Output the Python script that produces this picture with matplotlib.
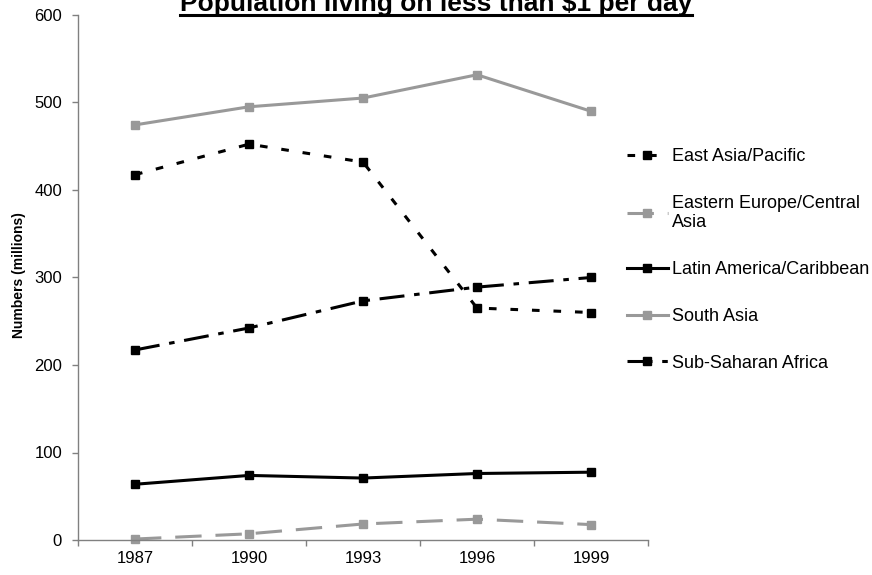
import matplotlib
matplotlib.use("Agg")
import matplotlib.pyplot as plt
from matplotlib.lines import Line2D

plt.rcParams['font.family'] = ['Liberation Sans', 'DejaVu Sans']
plt.rcParams['lines.scale_dashes'] = False

years = ['1987', '1990', '1993', '1996', '1999']
east_asia = [417.5, 452.4, 431.9, 265.1, 260.0]
eastern_europe = [1.1, 7.1, 18.3, 23.8, 17.6]
latin_america = [63.7, 73.8, 70.8, 76.0, 77.5]
south_asia = [474.4, 495.1, 505.1, 531.7, 490.0]
ss_africa = [217.2, 242.3, 273.3, 289.0, 300.0]

GRAY = '#999999'
AXC = '#808080'

fig = plt.figure(figsize=(8.72, 5.75), dpi=100)
W, H = 872, 575
ax = fig.add_axes([78 / W, 35 / H, 570 / W, 525 / H])

x = list(range(len(years)))
common = dict(lw=2.2, marker='s', markersize=6, clip_on=False)
ax.plot(x, east_asia, color='black', dashes=(5.5, 10), label='East Asia/Pacific', **common)
ax.plot(x, eastern_europe, color=GRAY, mfc=GRAY, mec=GRAY, dashes=(19, 10),
        label='Eastern Europe/Central\nAsia', **common)
ax.plot(x, latin_america, color='black', label='Latin America/Caribbean', **common)
ax.plot(x, south_asia, color=GRAY, mfc=GRAY, mec=GRAY, label='South Asia', **common)
ax.plot(x, ss_africa, color='black', dashes=(18, 7, 4, 7), label='Sub-Saharan Africa', **common)

ax.set_xlim(-0.5, len(years) - 0.5)
ax.set_ylim(0, 600)
ax.set_yticks(range(0, 601, 100))
# tick marks sit between the categories, labels in the middle
ax.set_xticks([i + 0.5 for i in range(-1, len(years))])
ax.set_xticklabels([])
ax.set_xticks(x, minor=True)
ax.set_xticklabels(years, minor=True)
ax.tick_params(axis='x', which='minor', length=0, pad=8, labelsize=12)
ax.tick_params(axis='x', which='major', length=4.5, color=AXC, width=1, direction='out')
ax.tick_params(axis='y', length=4.5, color=AXC, width=1, direction='out', pad=7, labelsize=12)

for s in ['top', 'right']:
    ax.spines[s].set_visible(False)
for s in ['left', 'bottom']:
    ax.spines[s].set_color(AXC)
    ax.spines[s].set_linewidth(1)

ax.legend(loc='upper left', bbox_to_anchor=(627 / W, 1 - 148 / H), bbox_transform=fig.transFigure,
          frameon=False, fontsize=13, handlelength=2.27, handletextpad=0.22,
          labelspacing=1.65, borderpad=0, borderaxespad=0)

fig.text(19.5 / W, 1 - 275 / H, 'Numbers (millions)', rotation=90, fontsize=10,
         fontweight='bold', ha='center', va='center')

title = fig.text(0.5, 1 - 11.5 / H, 'Population living on less than $1 per day', fontsize=19,
                 fontweight='bold', ha='center', va='baseline')
renderer = fig.canvas.get_renderer()
bb = title.get_window_extent(renderer)
uy = 1 - 14.5 / H
fig.add_artist(Line2D([bb.x0 / W, bb.x1 / W], [uy, uy], transform=fig.transFigure,
                      color='black', lw=2.2))

fig.savefig('out.png', dpi=100)
